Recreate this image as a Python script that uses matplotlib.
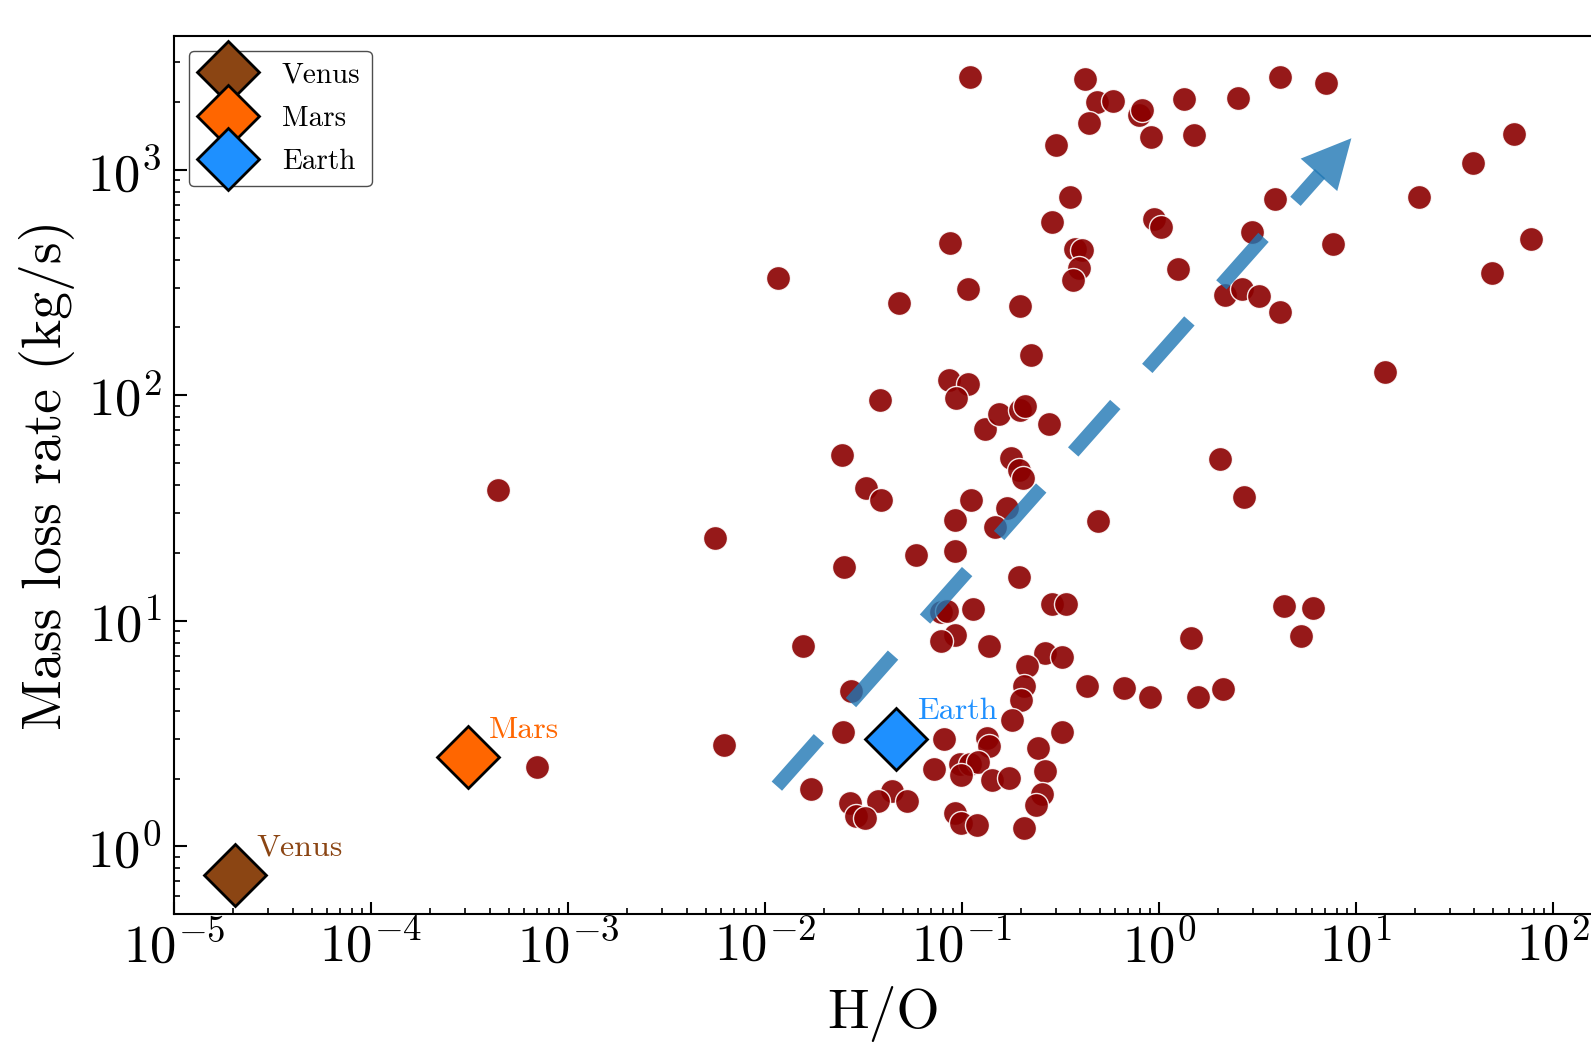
import matplotlib
matplotlib.use('Agg')
import matplotlib.pyplot as plt
from matplotlib.ticker import LogLocator, NullFormatter

plt.rcParams['font.family'] = 'serif'
plt.rcParams['font.serif'] = ['cmr10', 'DejaVu Serif']
plt.rcParams['mathtext.fontset'] = 'cm'
plt.rcParams['axes.formatter.use_mathtext'] = True

# ---------------- data ----------------
h_o = [0.110, 0.421, 0.486, 0.586, 0.794, 0.817, 0.440, 0.918, 0.302, 0.354,
       0.287, 0.944, 1.03, 0.376, 0.409, 0.394, 0.367, 1.245, 0.197, 0.224,
       0.0867, 0.0117, 0.0478, 0.108, 0.0382, 0.0857, 0.108, 0.0938, 0.131, 0.155,
       0.197, 0.210, 0.277, 0.177, 0.195, 0.204, 0.0327, 0.0390, 0.111, 0.0918,
       0.170, 0.147, 0.0587, 0.0927, 0.195, 0.492, 0.0787, 0.0839, 0.114, 0.0918,
       0.0787, 0.137, 0.287, 0.336, 0.264, 0.321, 0.213, 0.207, 0.200, 0.179,
       0.433, 0.667, 0.900, 1.59, 2.12, 1.46, 2.04, 2.72, 4.32, 6.04,
       5.27, 0.0811, 0.134, 0.138, 0.321, 0.244, 0.265, 0.0721, 0.0975, 0.110,
       0.121, 0.0993, 0.143, 0.173, 0.254, 0.237, 0.0444, 0.0528, 0.0375, 0.0918,
       0.0993, 0.119, 0.208, 0.0272, 0.0291, 0.0321, 0.0172, 0.0249, 0.00618, 0.0275,
       0.0156, 0.0253, 0.00561, 0.0246, 0.00044, 0.000697, 1.35, 1.51, 2.51, 4.10,
       7.06, 63.4, 39.4, 20.9, 3.88, 2.99, 7.69, 77.6, 2.16, 2.66,
       3.22, 4.12, 49.2, 14.0]

mass_loss = [2588, 2520, 2005, 2027, 1750, 1842, 1619, 1395, 1289, 761,
             588, 604, 560, 445, 439, 366, 325, 363, 249, 151,
             473, 331, 256, 296, 94.9, 117, 112, 97.3, 70.9, 82.6,
             86.3, 89.3, 74.6, 52.7, 46.8, 43.0, 38.8, 34.5, 34.5, 28.1,
             31.7, 26.0, 19.5, 20.5, 15.7, 27.8, 11.0, 11.1, 11.3, 8.70,
             8.12, 7.77, 11.9, 11.9, 7.21, 6.95, 6.34, 5.13, 4.48, 3.62,
             5.13, 5.05, 4.58, 4.58, 4.99, 8.43, 52.4, 35.6, 11.6, 11.4,
             8.57, 2.98, 3.03, 2.78, 3.22, 2.74, 2.16, 2.21, 2.33, 2.33,
             2.36, 2.08, 1.97, 2.01, 1.70, 1.52, 1.76, 1.59, 1.59, 1.41,
             1.27, 1.24, 1.21, 1.56, 1.36, 1.33, 1.79, 3.22, 2.81, 4.88,
             7.72, 17.3, 23.3, 54.6, 38.2, 2.25, 2055, 1428, 2089, 2588,
             2420, 1443, 1070, 761, 741, 532, 470, 493, 279, 296,
             277, 235, 348, 127]

planet_names = ['Venus', 'Mars', 'Earth']
planet_h_o = [2.05e-5, 3.11e-4, 0.0465]
planet_rate = [0.744, 2.48, 3.0]
planet_colors = ['#8B4513', '#FF6600', '#1E90FF']

trend_h_o = [0.0115, 9.5]
trend_rate = [1.85, 1380]

x_limits = [1e-5, 162]
y_limits = [0.5, 3920]

# ---------------- figure ----------------
W, H = 1591, 1045
fig = plt.figure(figsize=(W / 100, H / 100), dpi=100)
ax = fig.add_axes([174 / W, 1 - 914.3 / H, (1594 - 174) / W, (914.3 - 36) / H])
ax.set_xscale('log')
ax.set_yscale('log')

ax.scatter(h_o, mass_loss, s=300, c='darkred', alpha=0.9,
           edgecolors='white', linewidths=1.0, zorder=2)

blue = '#1f77b4'
ax.annotate('', xy=(trend_h_o[1], trend_rate[1]), xytext=(trend_h_o[0], trend_rate[0]),
            arrowprops=dict(arrowstyle='-', lw=10, linestyle=(0, (4.57, 3.47)),
                            capstyle='butt', color=blue, alpha=0.8,
                            shrinkA=0, shrinkB=34),
            zorder=3)
ax.annotate('', xy=(trend_h_o[1], trend_rate[1]), xytext=(trend_h_o[0], trend_rate[0]),
            arrowprops=dict(arrowstyle='-|>,head_length=0.4,head_width=0.2',
                            mutation_scale=88, lw=0, color=blue, alpha=0.8,
                            shrinkA=0, shrinkB=0),
            zorder=3)

for name, px, py, col in zip(planet_names, planet_h_o, planet_rate, planet_colors):
    ax.plot([px], [py], linestyle='none', marker='D', ms=32, mfc=col,
            mec='black', mew=2, label=name, zorder=5)
    ax.annotate(name, (px, py), xytext=(15, 14), textcoords='offset points',
                color=col, fontsize=23, ha='left', va='baseline', zorder=6)

leg = ax.legend(loc='upper left', fontsize=21, borderpad=0.4, labelspacing=0.57,
                handlelength=1.9, handletextpad=0.9, fancybox=True,
                framealpha=1.0, edgecolor='0.3', numpoints=1)
leg.get_frame().set_linewidth(1.0)

ax.set_xlim(*x_limits)
ax.set_ylim(*y_limits)
ax.xaxis.set_major_locator(LogLocator(base=10, numticks=20))
ax.xaxis.set_minor_locator(LogLocator(base=10, subs=range(2, 10), numticks=20))
ax.yaxis.set_major_locator(LogLocator(base=10, numticks=20))
ax.yaxis.set_minor_locator(LogLocator(base=10, subs=range(2, 10), numticks=20))
ax.xaxis.set_minor_formatter(NullFormatter())
ax.yaxis.set_minor_formatter(NullFormatter())

ax.tick_params(which='both', direction='in', top=False, right=False)
ax.tick_params(which='major', length=9, width=1.5, labelsize=38)
ax.tick_params(which='minor', length=4.5, width=1.2)
ax.tick_params(axis='x', which='major', pad=4)
ax.tick_params(axis='y', which='major', pad=9)
for sp in ax.spines.values():
    sp.set_linewidth(1.5)

ax.set_xlabel('H/O', fontsize=40, labelpad=10)
ax.set_ylabel('Mass loss rate (kg/s)', fontsize=40, labelpad=9)

fig.savefig('out.png', dpi=100)
